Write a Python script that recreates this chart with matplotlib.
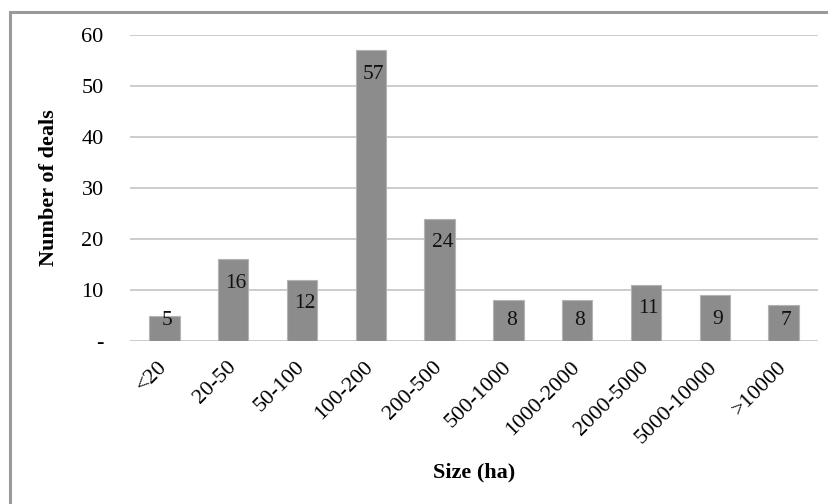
import matplotlib.pyplot as plt
from matplotlib.patches import Rectangle

categorias = ["<20", "20-50", "50-100", "100-200", "200-500", "500-1000",
              "1000-2000", "2000-5000", "5000-10000", ">10000"]
tratos = [5, 16, 12, 57, 24, 8, 8, 11, 9, 7]
marcas_y = [0, 10, 20, 30, 40, 50, 60]
etiquetas_y = ["-", "10", "20", "30", "40", "50", "60"]

plt.rcParams["font.family"] = ["Liberation Serif", "DejaVu Serif"]

fig = plt.figure(figsize=(8.29, 5.04), dpi=100)

# marco gris alrededor del grafico
fig.patches.append(Rectangle((10 / 829, -0.05), 1.0, 1 - 12 / 504 + 0.05,
                             transform=fig.transFigure, fill=False,
                             edgecolor="#9a9a9a", linewidth=2.2))

ax = fig.add_axes([130 / 829, 1 - 341 / 504, 688 / 829, 306 / 504])
x = range(len(categorias))
ax.bar(x, tratos, width=0.44, color="#8c8c8c", edgecolor="#b4b4b4",
       linewidth=0.8, zorder=3)

for i, v in enumerate(tratos):
    ax.text(i + 0.04, max(v - 4.7, 4.1), str(v), ha="center", va="center",
            fontsize=15.5, color="#111111", zorder=4)

ax.set_xlim(-0.5, len(categorias) - 0.5)
ax.set_ylim(0, 60)
ax.set_yticks(marcas_y)
ax.set_yticklabels(etiquetas_y, fontsize=16)
ax.set_xticks(list(x))
ax.set_xticklabels(categorias, fontsize=16, rotation=45, ha="right",
                   va="center", rotation_mode="anchor")
ax.tick_params(axis="both", length=0)
ax.tick_params(axis="y", pad=19)
ax.tick_params(axis="x", pad=17)
ax.grid(axis="y", color="#c4c4c4", linewidth=1.2, zorder=0)
for s in ax.spines.values():
    s.set_visible(False)

ax.set_ylabel("Number of deals", fontsize=16, fontweight="bold", va="center")
ax.yaxis.set_label_coords(-0.118, 0.5)
ax.set_xlabel("Size (ha)", fontsize=16, fontweight="bold", va="center")
ax.xaxis.set_label_coords(0.5, -0.431)

fig.savefig("out.png", dpi=100)
